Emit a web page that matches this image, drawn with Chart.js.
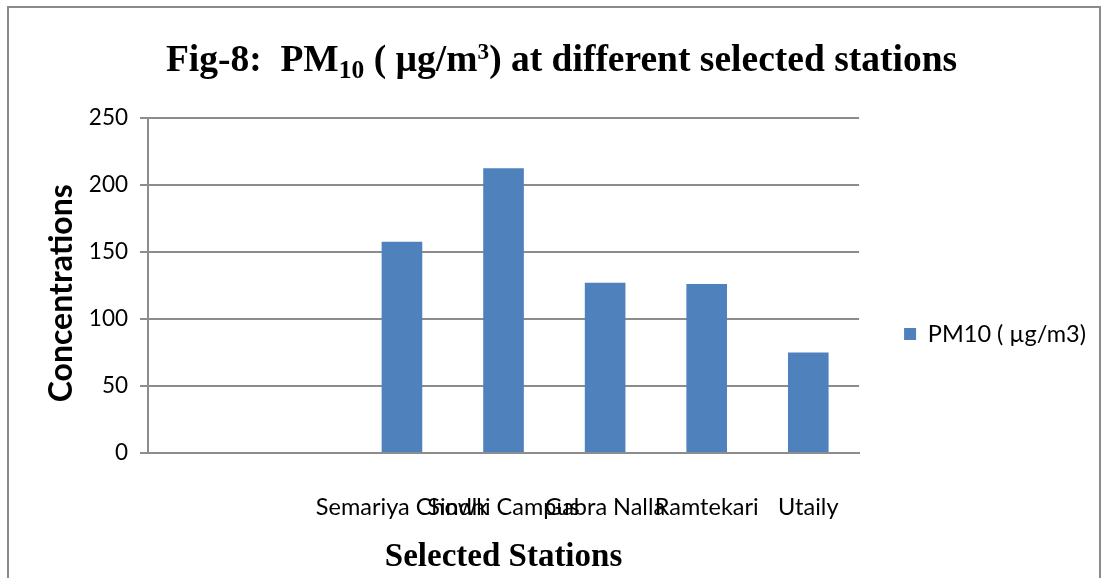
<!DOCTYPE html>
<html>
<head>
<meta charset="utf-8">
<script src="https://cdn.jsdelivr.net/npm/chart.js@4/dist/chart.umd.min.js"></script>
<style>
  html, body { margin: 0; padding: 0; background: #fff; }
  #wrap { position: relative; width: 1106px; height: 578px; overflow: hidden; }
  #frame { position: absolute; left: 7px; top: 6px; width: 1090px; height: 600px;
           border: 2px solid #8a8a8a; border-bottom: none; }
  #title { position: absolute; left: 0; top: 40px; width: 1123px; text-align: center;
           font: bold 37.5px "Liberation Serif", "Times New Roman", serif; line-height: 38px;
           white-space: pre; color: #000; }
  #title sub { font-size: 0.68em; vertical-align: -0.28em; line-height: 0; }
  #title sup { font-size: 0.62em; vertical-align: 0.5em; line-height: 0; }
  canvas { position: absolute; left: 0; top: 0; }
</style>
</head>
<body>
<div id="wrap">
  <div id="frame"></div>
  <canvas id="pmChart" width="1106" height="578"></canvas>
  <div id="title">Fig-8:  PM<sub>10</sub> ( µg/m<sup>3</sup>) at different selected stations</div>
</div>
<script>
  // stations (first two slots are empty in the source sheet)
  const stations = ['', '', 'Semariya Chowk', 'Sindhi Campus', 'Gabra Nalla', 'Ramtekari', 'Utaily'];
  const pm10 = [null, null, 157.7, 212.5, 127.1, 126.1, 75.0];
  const seriesName = 'PM10 ( µg/m3)';
  const yTicks = [0, 50, 100, 150, 200, 250];

  const gridGrey = '#8c8c8c';
  const labelFont = { family: 'Lato', size: 23.5 };

  const ctx = document.getElementById('pmChart').getContext('2d');
  const pmChart = new Chart(ctx, {
    type: 'bar',
    data: {
      labels: stations,
      datasets: [{
        label: seriesName,
        data: pm10,
        backgroundColor: '#4f81bd',
        borderWidth: 0,
        categoryPercentage: 1.0,
        barPercentage: 0.4
      }]
    },
    options: {
      responsive: false,
      animation: false,
      layout: {
        padding: { left: 0, top: 118, right: 10, bottom: 28 }
      },
      scales: {
        y: {
          min: yTicks[0],
          max: yTicks[yTicks.length - 1],
          afterFit: (s) => { s.width = 148; },
          afterBuildTicks: (s) => { s.ticks = yTicks.map(v => ({ value: v })); },
          ticks: { color: '#000', font: { family: 'Lato', size: 22.5 }, padding: 12 },
          grid: { color: gridGrey, lineWidth: 2, tickLength: 8, drawTicks: true },
          border: { color: gridGrey, width: 2 },
          title: {
            display: true,
            text: 'Concentrations  ',
            color: '#000',
            font: { family: 'Lato', size: 32, weight: 'bold' },
            padding: { top: 42, bottom: 0 }
          }
        },
        x: {
          afterFit: (s) => { s.height = 97; },
          ticks: { color: '#000', font: labelFont, padding: 40, autoSkip: false, maxRotation: 0, minRotation: 0 },
          grid: { display: false, drawTicks: false },
          border: { color: gridGrey, width: 2 },
          title: {
            display: true,
            text: 'Selected Stations',
            color: '#000',
            font: { family: 'Liberation Serif', size: 33, weight: 'bold' },
            padding: { top: 0, bottom: -27 }
          }
        }
      },
      plugins: {
        legend: {
          display: true,
          position: 'right',
          labels: {
            color: '#000',
            font: labelFont,
            boxWidth: 12,
            boxHeight: 12,
            padding: 45
          }
        },
        tooltip: { enabled: false }
      }
    }
  });
</script>
</body>
</html>
